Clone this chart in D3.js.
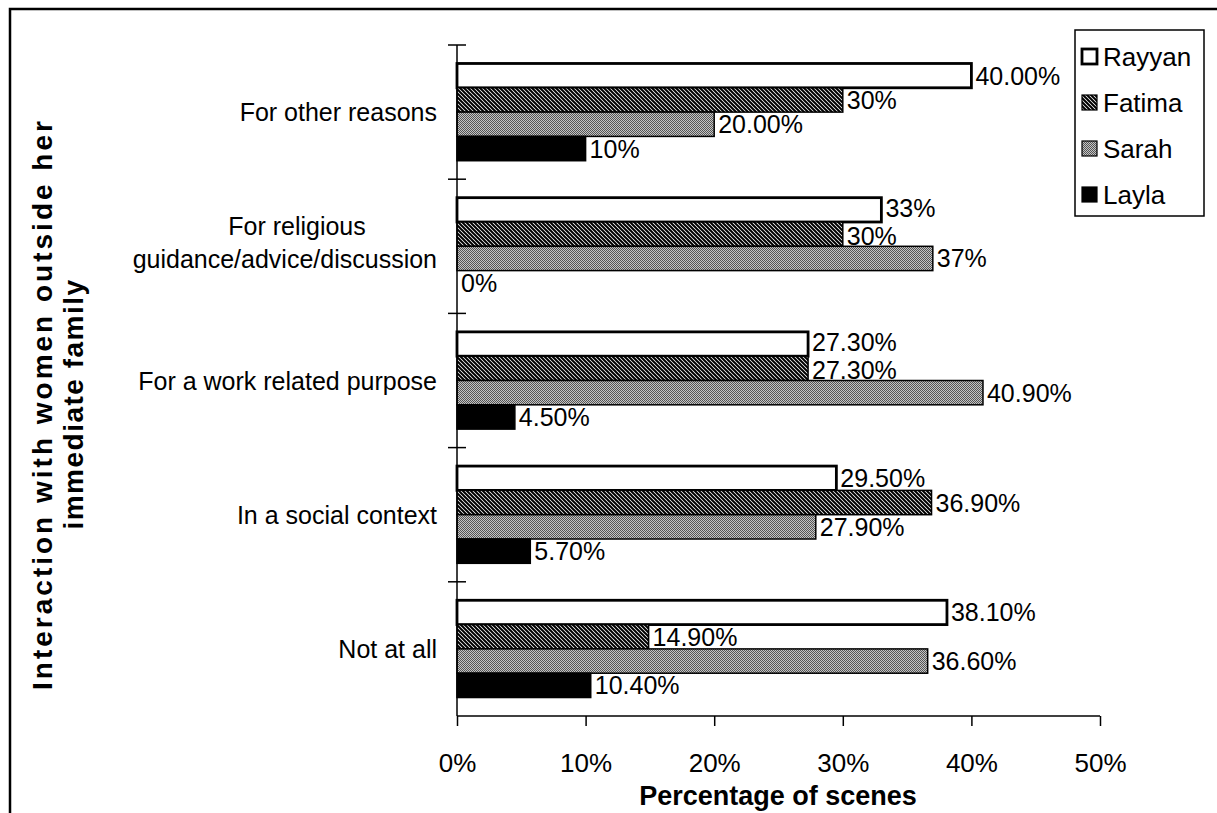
<!DOCTYPE html>
<html>
<head>
<meta charset="utf-8">
<script src="https://cdn.jsdelivr.net/npm/d3@7/dist/d3.min.js"></script>
<style>
  html, body { margin: 0; padding: 0; background: #fff; }
  svg { display: block; font-family: "Liberation Sans", Arial, Helvetica, sans-serif; }
</style>
</head>
<body>
<svg id="chart" width="1217" height="813"></svg>
<script>
// Categories, top to bottom
const categories = [
  "For other reasons",
  "For religious guidance/advice/discussion",
  "For a work related purpose",
  "In a social context",
  "Not at all"
];
const categoryLines = [
  ["For other reasons"],
  ["For religious", "guidance/advice/discussion"],
  ["For a work related purpose"],
  ["In a social context"],
  ["Not at all"]
];
const series = ["Rayyan", "Fatima", "Sarah", "Layla"];

// Values (fraction of scenes), one array per series, in category order
const rayyan = [0.40, 0.33, 0.273, 0.295, 0.381];
const fatima = [0.30, 0.30, 0.273, 0.369, 0.149];
const sarah  = [0.20, 0.37, 0.409, 0.279, 0.366];
const layla  = [0.10, 0.00, 0.045, 0.057, 0.104];

// Data labels as printed next to each bar
const rayyanLabels = ["40.00%", "33%", "27.30%", "29.50%", "38.10%"];
const fatimaLabels = ["30%", "30%", "27.30%", "36.90%", "14.90%"];
const sarahLabels  = ["20.00%", "37%", "40.90%", "27.90%", "36.60%"];
const laylaLabels  = ["10%", "0%", "4.50%", "5.70%", "10.40%"];

const xTicks = [0, 0.1, 0.2, 0.3, 0.4, 0.5];
const xTickLabels = ["0%", "10%", "20%", "30%", "40%", "50%"];

const xTitle = "Percentage of scenes";
const yTitleLines = ["Interaction with women outside her", "immediate family"];

const values = [rayyan, fatima, sarah, layla];
const labels = [rayyanLabels, fatimaLabels, sarahLabels, laylaLabels];

const svg = d3.select("#chart");
const defs = svg.append("defs");

// Fill patterns
const hatch = defs.append("pattern")
  .attr("id", "hatch").attr("patternUnits", "userSpaceOnUse")
  .attr("width", 4).attr("height", 4);
hatch.append("rect").attr("width", 4).attr("height", 4).attr("fill", "#fff");
hatch.append("path").attr("d", "M-1,-1 L5,5 M-1,3 L1,5 M3,-1 L5,1")
  .attr("stroke", "#000").attr("stroke-width", 2);

const dots = defs.append("pattern")
  .attr("id", "dots").attr("patternUnits", "userSpaceOnUse")
  .attr("width", 2).attr("height", 2);
dots.append("rect").attr("width", 2).attr("height", 2).attr("fill", "#c4c4c4");
dots.append("rect").attr("width", 1).attr("height", 1).attr("fill", "#555");
dots.append("rect").attr("x", 1).attr("y", 1).attr("width", 1).attr("height", 1).attr("fill", "#555");

const fills = ["#fff", "url(#hatch)", "url(#dots)", "#000"];
const strokeW = [2.8, 1.5, 1.5, 1.5];

// Outer frame
svg.append("path")
  .attr("d", "M10,813 L10,9 L1217,9")
  .attr("fill", "none").attr("stroke", "#000").attr("stroke-width", 2.5);

// Scales
const x = d3.scaleLinear().domain([0, 0.5]).range([457, 1100]);
const y0 = d3.scaleBand().domain(categories).range([45, 716]).padding(0);
const y1 = d3.scaleBand().domain(series).range([0, y0.bandwidth()]).paddingInner(0).paddingOuter(0.76);

// Bars and value labels
const g = svg.append("g");
categories.forEach((cat, ci) => {
  const texts = [];
  series.forEach((s, si) => {
    const v = values[si][ci];
    const yy = y0(cat) + y1(s);
    if (v > 0) {
      g.append("rect")
        .attr("x", x(0)).attr("y", yy)
        .attr("width", x(v) - x(0)).attr("height", y1.bandwidth())
        .attr("fill", fills[si]).attr("stroke", "#000").attr("stroke-width", strokeW[si]);
    }
    const t = g.append("text")
      .attr("x", x(v) + 4).attr("y", yy + y1.bandwidth() / 2 + 9)
      .attr("font-size", 25).attr("fill", "#000")
      .text(labels[si][ci]);
    texts.push({ t, x0: x(v) + 4, x1: x(v) + 4 + t.node().getComputedTextLength(), y: yy + y1.bandwidth() / 2 + 9 });
  });
  // Spread neighbouring labels that sit at the same horizontal spot
  for (let i = 0; i < texts.length - 1; i++) {
    const a = texts[i], b = texts[i + 1];
    if (a.x0 < b.x1 && b.x0 < a.x1) {
      a.t.attr("y", a.y - 2);
      b.t.attr("y", b.y + 2);
    }
  }
});

// X axis
const xAxis = d3.axisBottom(x).tickValues(xTicks)
  .tickFormat((d, i) => xTickLabels[i]).tickSize(10).tickPadding(28);
const xg = svg.append("g").attr("transform", "translate(0,716)").call(xAxis);
xg.select(".domain").attr("stroke", "#000").attr("stroke-width", 1.5).attr("d", `M${x(0)},0H${x(0.5)}`);
xg.selectAll(".tick line").attr("stroke", "#000").attr("stroke-width", 1.5);
xg.selectAll(".tick text").attr("font-size", 26).attr("fill", "#000")
  .attr("font-family", "Liberation Sans, Arial, sans-serif");

// Y axis line with crossing tick marks at category boundaries
const yBounds = categories.map(c => y0(c));
svg.append("line").attr("x1", x(0)).attr("x2", x(0)).attr("y1", 45).attr("y2", 716)
  .attr("stroke", "#000").attr("stroke-width", 1.5);
svg.selectAll(".ytick").data(yBounds).join("line")
  .attr("class", "ytick")
  .attr("x1", x(0) - 9).attr("x2", x(0) + 9)
  .attr("y1", d => d).attr("y2", d => d)
  .attr("stroke", "#000").attr("stroke-width", 1.5);

// Category labels
categories.forEach((cat, ci) => {
  const lines = categoryLines[ci];
  const cy = y0(cat) + y0.bandwidth() / 2;
  if (lines.length === 1) {
    svg.append("text").attr("x", 437).attr("y", cy + 9)
      .attr("text-anchor", "end").attr("font-size", 25).text(lines[0]);
  } else {
    svg.append("text").attr("x", 297).attr("y", cy - 11)
      .attr("text-anchor", "middle").attr("font-size", 25).text(lines[0]);
    svg.append("text").attr("x", 437).attr("y", cy + 22)
      .attr("text-anchor", "end").attr("font-size", 25).text(lines[1]);
  }
});

// Axis titles
svg.append("text").attr("x", 778).attr("y", 805)
  .attr("text-anchor", "middle").attr("font-size", 27).attr("font-weight", "bold")
  .text(xTitle);
const yt = svg.append("text")
  .attr("transform", "translate(0,404) rotate(-90)")
  .attr("text-anchor", "middle").attr("font-size", 28).attr("font-weight", "bold");
yt.append("tspan").attr("x", 0).attr("y", 52).attr("letter-spacing", 3).text(yTitleLines[0]);
yt.append("tspan").attr("x", 0).attr("y", 83).attr("letter-spacing", 1.5).text(yTitleLines[1]);

// Legend
const legend = svg.append("g");
legend.append("rect").attr("x", 1075).attr("y", 30).attr("width", 129).attr("height", 186)
  .attr("fill", "#fff").attr("stroke", "#000").attr("stroke-width", 1.5);
series.forEach((s, si) => {
  const cy = 57 + si * 46;
  legend.append("rect").attr("x", 1082).attr("y", cy - 8).attr("width", 15).attr("height", 15)
    .attr("fill", fills[si]).attr("stroke", "#000").attr("stroke-width", si === 0 ? 2.8 : 1.2);
  legend.append("text").attr("x", 1103).attr("y", cy + 9).attr("font-size", 26).text(s);
});
</script>
</body>
</html>
